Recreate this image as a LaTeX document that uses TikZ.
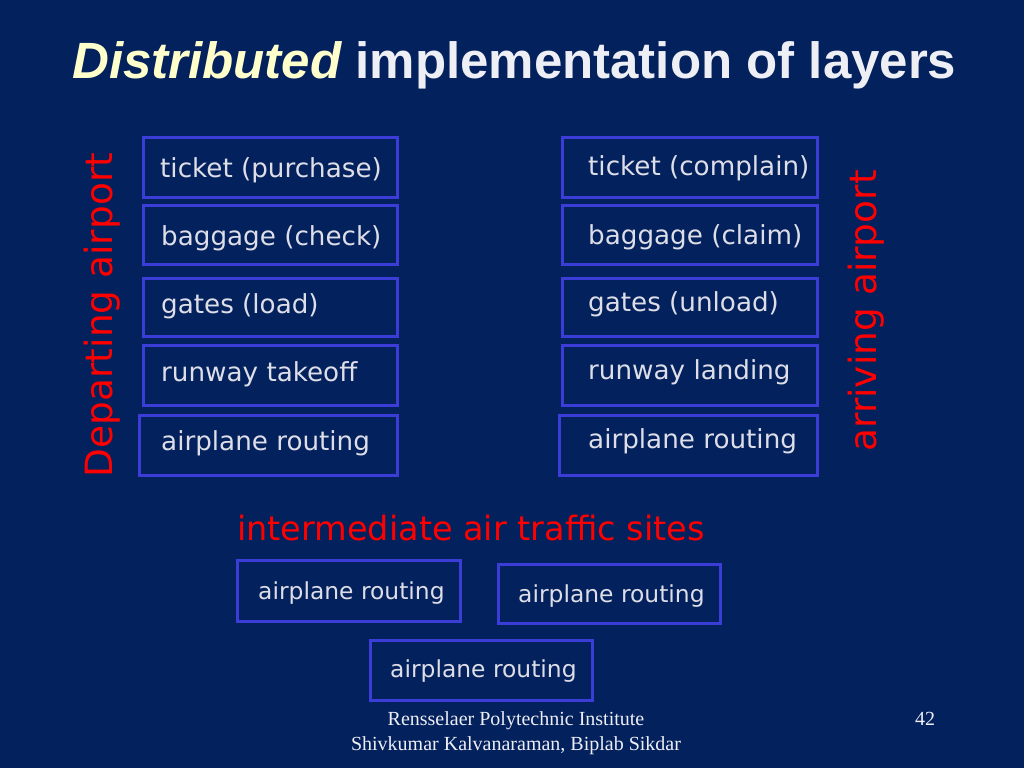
\documentclass[tikz,border=0pt]{standalone}
\usepackage{fontspec}
\setmainfont{DejaVu Sans}
\newfontfamily\headfont{Liberation Sans}
\newfontfamily\footfont{Liberation Serif}
\definecolor{slidebg}{RGB}{3,33,92}
\definecolor{layerblue}{RGB}{60,60,214}
\definecolor{layergray}{RGB}{222,222,232}
\definecolor{headyellow}{RGB}{255,255,204}
\definecolor{headwhite}{RGB}{238,238,245}
\definecolor{sitered}{RGB}{255,0,0}
\begin{document}
\begin{tikzpicture}[x=1pt,y=-1pt,
  layer/.style={draw=layerblue,line width=3pt,anchor=north west,inner sep=0pt},
  layertxt/.style={anchor=base west,inner sep=0pt,text=layergray,font=\fontsize{26.2}{30}\selectfont},
  sitetxt/.style={anchor=base west,inner sep=0pt,text=layergray,font=\fontsize{23.4}{27}\selectfont},
  redtxt/.style={inner sep=0pt,text=sitered,font=\fontsize{37.5}{42}\selectfont},
  foottxt/.style={anchor=base,inner sep=0pt,text=headwhite,font=\footfont\fontsize{20}{24}\selectfont}]
\fill[slidebg] (0,0) rectangle (1024,768);
\useasboundingbox (0,0) rectangle (1024,768);
% title
\node[anchor=base west,inner sep=0pt,text=headwhite,font=\headfont\bfseries\fontsize{51}{56}\selectfont] (title) at (72,78)
  {\textcolor{headyellow}{\itshape Distributed} implementation of layers};
% departing airport
\foreach \n/\x/\y/\w/\h in {1/142/136/254/60,2/142/204/254/59,3/142/277/254/58,4/142/344/254/60,5/138/414/258/60}
  \node[layer,minimum width=\w,minimum height=\h] (dep\n) at (\x,\y) {};
\foreach \n/\x/\b/\v in {1/160/177/ticket (purchase),2/161/245/baggage (check),3/161/313/gates (load),4/161/381/runway takeoff,5/161/450/airplane routing}
  \node[layertxt] (deptxt\n) at (\x,\b) {\v};
\node[redtxt,rotate=90,anchor=base] (departing) at (112,315) {Departing airport};
% arriving airport
\foreach \n/\x/\y/\w/\h in {1/561/136/255/60,2/561/204/255/59,3/561/277/255/58,4/561/344/255/60,5/558/414/258/60}
  \node[layer,minimum width=\w,minimum height=\h] (arr\n) at (\x,\y) {};
\foreach \n/\b/\v in {1/175/ticket (complain),2/244/baggage (claim),3/311/gates (unload),4/379/runway landing,5/448/airplane routing}
  \node[layertxt] (arrtxt\n) at (588,\b) {\v};
\node[redtxt,rotate=90,anchor=base] (arriving) at (876,311) {arriving airport};
% intermediate sites
\node[redtxt,font=\fontsize{33.5}{38}\selectfont,anchor=base west] (sites) at (237,540) {intermediate air traffic sites};
\foreach \n/\x/\y/\w/\h/\tx/\b in {1/236/559/223/61/258/599,2/497/563/222/59/518/602,3/369/639/222/60/390/677} {
  \node[layer,minimum width=\w,minimum height=\h] (mid\n) at (\x,\y) {};
  \node[sitetxt] (midtxt\n) at (\tx,\b) {airplane routing};
}
% footer
\node[foottxt] (inst) at (516,725) {Rensselaer Polytechnic Institute};
\node[foottxt] (authors) at (516,750) {Shivkumar Kalvanaraman, Biplab Sikdar};
\node[foottxt] (page) at (925,725) {42};
\end{tikzpicture}
\end{document}
